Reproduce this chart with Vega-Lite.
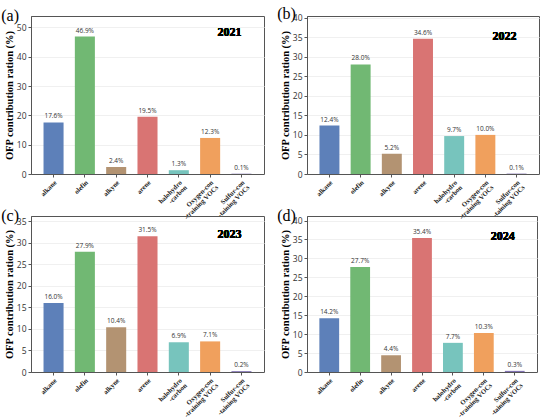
{
  "$schema": "https://vega.github.io/schema/vega-lite/v6.json",
  "background": "white",
  "padding": {"left": 0, "top": 5, "right": 4, "bottom": 0},
  "datasets": {
    "ofp": [
      {"year": "2021", "cat": "alkane", "v": 17.6},
      {"year": "2021", "cat": "olefin", "v": 46.9},
      {"year": "2021", "cat": "alkyne", "v": 2.4},
      {"year": "2021", "cat": "arene", "v": 19.5},
      {"year": "2021", "cat": "halohydrocarbon", "v": 1.3},
      {"year": "2021", "cat": "Oxygen-containing VOCs", "v": 12.3},
      {"year": "2021", "cat": "Sulfur-containing VOCs", "v": 0.1},
      {"year": "2022", "cat": "alkane", "v": 12.4},
      {"year": "2022", "cat": "olefin", "v": 28.0},
      {"year": "2022", "cat": "alkyne", "v": 5.2},
      {"year": "2022", "cat": "arene", "v": 34.6},
      {"year": "2022", "cat": "halohydrocarbon", "v": 9.7},
      {"year": "2022", "cat": "Oxygen-containing VOCs", "v": 10.0},
      {"year": "2022", "cat": "Sulfur-containing VOCs", "v": 0.1},
      {"year": "2023", "cat": "alkane", "v": 16.0},
      {"year": "2023", "cat": "olefin", "v": 27.9},
      {"year": "2023", "cat": "alkyne", "v": 10.4},
      {"year": "2023", "cat": "arene", "v": 31.5},
      {"year": "2023", "cat": "halohydrocarbon", "v": 6.9},
      {"year": "2023", "cat": "Oxygen-containing VOCs", "v": 7.1},
      {"year": "2023", "cat": "Sulfur-containing VOCs", "v": 0.2},
      {"year": "2024", "cat": "alkane", "v": 14.2},
      {"year": "2024", "cat": "olefin", "v": 27.7},
      {"year": "2024", "cat": "alkyne", "v": 4.4},
      {"year": "2024", "cat": "arene", "v": 35.4},
      {"year": "2024", "cat": "halohydrocarbon", "v": 7.7},
      {"year": "2024", "cat": "Oxygen-containing VOCs", "v": 10.3},
      {"year": "2024", "cat": "Sulfur-containing VOCs", "v": 0.3}
    ]
  },
  "columns": 2,
  "bounds": "flush",
  "spacing": {"row": 42, "column": 43},
  "concat": [
    {
      "title": {"text": "(a)"},
      "width": 233,
      "height": 158,
      "data": {"name": "ofp"},
      "transform": [{"filter": "datum.year == '2021'"}, {"calculate": "format(datum.v, '.1f') + '%'", "as": "lbl"}],
      "encoding": {
        "x": {"field": "cat", "type": "nominal", "sort": null},
        "y": {"field": "v", "type": "quantitative", "scale": {"domain": [0, 53.9], "nice": false}, "axis": {"title": "OFP contribution ration (%)", "values": [0, 10, 20, 30, 40, 50]}}
      },
      "layer": [
        {"mark": {"type": "bar"}, "encoding": {"color": {"field": "cat", "type": "nominal", "sort": null, "legend": null}}},
        {"mark": {"type": "text", "dy": -6, "fontSize": 6.5, "color": "#333", "font": "Open Sans"}, "encoding": {"text": {"field": "lbl"}}},
        {"mark": {"type": "text", "text": "2021", "align": "right", "fontSize": 12, "fontWeight": "bold", "font": "Liberation Serif", "color": "black"}, "encoding": {"x": {"datum": "Sulfur-containing VOCs"}, "y": {"datum": 48.3}}}
      ]
    },
    {
      "title": {"text": "(b)"},
      "width": 232,
      "height": 158,
      "data": {"name": "ofp"},
      "transform": [{"filter": "datum.year == '2022'"}, {"calculate": "format(datum.v, '.1f') + '%'", "as": "lbl"}],
      "encoding": {
        "x": {"field": "cat", "type": "nominal", "sort": null},
        "y": {"field": "v", "type": "quantitative", "scale": {"domain": [0, 40.4], "nice": false}, "axis": {"title": "OFP contribution ration (%)", "values": [0, 5, 10, 15, 20, 25, 30, 35, 40]}}
      },
      "layer": [
        {"mark": {"type": "bar"}, "encoding": {"color": {"field": "cat", "type": "nominal", "sort": null, "legend": null}}},
        {"mark": {"type": "text", "dy": -6, "fontSize": 6.5, "color": "#333", "font": "Open Sans"}, "encoding": {"text": {"field": "lbl"}}},
        {"mark": {"type": "text", "text": "2022", "align": "right", "fontSize": 12, "fontWeight": "bold", "font": "Liberation Serif", "color": "black"}, "encoding": {"x": {"datum": "Sulfur-containing VOCs"}, "y": {"datum": 35.3}}}
      ]
    },
    {
      "title": {"text": "(c)"},
      "width": 233,
      "height": 156,
      "data": {"name": "ofp"},
      "transform": [{"filter": "datum.year == '2023'"}, {"calculate": "format(datum.v, '.1f') + '%'", "as": "lbl"}],
      "encoding": {
        "x": {"field": "cat", "type": "nominal", "sort": null},
        "y": {"field": "v", "type": "quantitative", "scale": {"domain": [0, 36.2], "nice": false}, "axis": {"title": "OFP contribution ration (%)", "values": [0, 5, 10, 15, 20, 25, 30, 35]}}
      },
      "layer": [
        {"mark": {"type": "bar"}, "encoding": {"color": {"field": "cat", "type": "nominal", "sort": null, "legend": null}}},
        {"mark": {"type": "text", "dy": -6, "fontSize": 6.5, "color": "#333", "font": "Open Sans"}, "encoding": {"text": {"field": "lbl"}}},
        {"mark": {"type": "text", "text": "2023", "align": "right", "fontSize": 12, "fontWeight": "bold", "font": "Liberation Serif", "color": "black"}, "encoding": {"x": {"datum": "Sulfur-containing VOCs"}, "y": {"datum": 32.0}}}
      ]
    },
    {
      "title": {"text": "(d)"},
      "width": 230,
      "height": 156,
      "data": {"name": "ofp"},
      "transform": [{"filter": "datum.year == '2024'"}, {"calculate": "format(datum.v, '.1f') + '%'", "as": "lbl"}],
      "encoding": {
        "x": {"field": "cat", "type": "nominal", "sort": null},
        "y": {"field": "v", "type": "quantitative", "scale": {"domain": [0, 41.2], "nice": false}, "axis": {"title": "OFP contribution ration (%)", "values": [0, 5, 10, 15, 20, 25, 30, 35, 40]}}
      },
      "layer": [
        {"mark": {"type": "bar"}, "encoding": {"color": {"field": "cat", "type": "nominal", "sort": null, "legend": null}}},
        {"mark": {"type": "text", "dy": -6, "fontSize": 6.5, "color": "#333", "font": "Open Sans"}, "encoding": {"text": {"field": "lbl"}}},
        {"mark": {"type": "text", "text": "2024", "align": "right", "fontSize": 12, "fontWeight": "bold", "font": "Liberation Serif", "color": "black"}, "encoding": {"x": {"datum": "Sulfur-containing VOCs"}, "y": {"datum": 36.0}}}
      ]
    }
  ],
  "config": {
    "view": {"stroke": "#555", "strokeWidth": 1},
    "range": {"category": ["#5d80b9", "#71b873", "#b39372", "#d97473", "#77c4bd", "#f0a05d", "#8172b3"]},
    "scale": {"bandPaddingInner": 0.36, "bandPaddingOuter": 0.4},
    "title": {"anchor": "start", "frame": "bounds", "font": "Liberation Serif", "fontSize": 16, "fontWeight": "normal", "color": "black", "offset": -8, "dx": -3},
    "axisX": {
      "title": null,
      "labelAngle": -45,
      "labelAlign": "right",
      "labelBaseline": "top",
      "labelFont": "Liberation Serif",
      "labelFontWeight": "bold",
      "labelFontSize": 6.8,
      "labelColor": "#222",
      "labelPadding": 2,
      "labelLineHeight": 7,
      "tickSize": 3,
      "tickColor": "#555",
      "domainColor": "#555",
      "labelExpr": "datum.value == 'halohydrocarbon' ? ['halohydro', '-carbon'] : datum.value == 'Oxygen-containing VOCs' ? ['Oxygen-con', '-training VOCs'] : datum.value == 'Sulfur-containing VOCs' ? ['Sulfur-con', '-taining VOCs'] : datum.value"
    },
    "axisY": {
      "titleFont": "Liberation Serif",
      "titleFontWeight": "bold",
      "titleFontSize": 10.5,
      "titleColor": "black",
      "titlePadding": 2,
      "labelFont": "Open Sans",
      "labelFontSize": 8.5,
      "labelColor": "#333",
      "labelPadding": 2,
      "format": "d",
      "tickSize": 3,
      "tickColor": "#555",
      "domainColor": "#555",
      "grid": true,
      "gridColor": "#f0f0f0"
    }
  }
}
